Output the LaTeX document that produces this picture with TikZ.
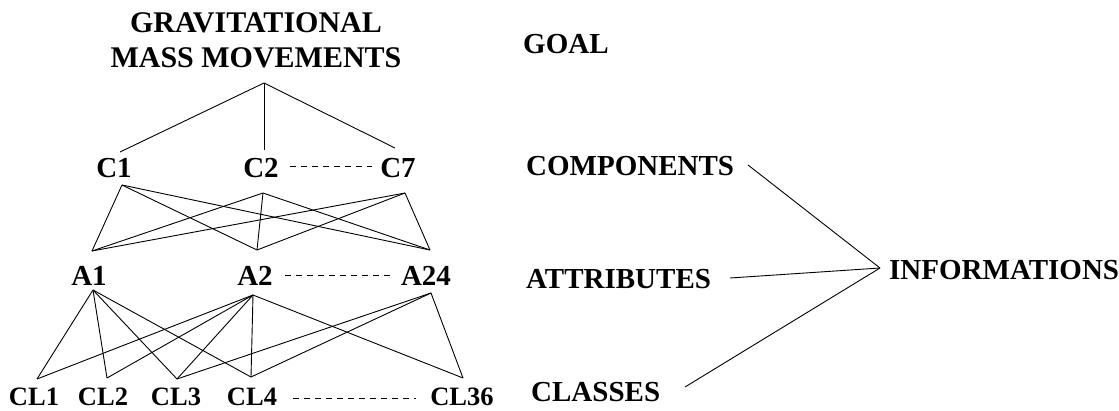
\documentclass[tikz,border=0pt]{standalone}
\usepackage{fontspec}
\setmainfont{Liberation Serif}
\begin{document}
\begin{tikzpicture}[x=1pt,y=-1pt,
  lbl/.style={font=\fontsize{29}{35}\selectfont\bfseries, inner sep=0pt},
  ttl/.style={font=\fontsize{30}{35}\selectfont\bfseries, inner sep=0pt, align=center},
  cls/.style={font=\fontsize{26.5}{30}\selectfont\bfseries, inner sep=0pt},
  side/.style={lbl, anchor=west},
  edge/.style={line width=0.9pt, black},
  dots/.style={line width=0.9pt, dash pattern=on 6pt off 5pt}]
\useasboundingbox (0,0) rectangle (1119,410);
% labels
\node[ttl] (goal) at (256,40) {GRAVITATIONAL\\MASS MOVEMENTS};
\node[lbl] (C1) at (114,168) {C1};
\node[lbl] (C2) at (261,168) {C2};
\node[lbl] (C7) at (398,168) {C7};
\node[lbl] (A1) at (89,276) {A1};
\node[lbl] (A2) at (255,276) {A2};
\node[lbl] (A24) at (426,276) {A24};
\node[cls] (CL1) at (34,397) {CL1};
\node[cls] (CL2) at (103,397) {CL2};
\node[cls] (CL3) at (176,397) {CL3};
\node[cls] (CL4) at (252,397) {CL4};
\node[cls] (CL36) at (462,397) {CL36};
\node[side] (GOAL) at (523,44) {GOAL};
\node[side] (COMP) at (526,166) {COMPONENTS};
\node[side] (ATTR) at (526,279) {ATTRIBUTES};
\node[side] (CLAS) at (531,392) {CLASSES};
\node[side] (INFO) at (889,270) {INFORMATIONS};
% connection points
\coordinate (apex) at (264,83);
\coordinate (C1t) at (120,152);
\coordinate (C2t) at (264,150);
\coordinate (C7t) at (395,148);
\coordinate (C1b) at (122,185);
\coordinate (C2b) at (263,193);
\coordinate (C7b) at (405,193);
\coordinate (A1t) at (92,251);
\coordinate (A2t) at (257,250);
\coordinate (A24t) at (430,250);
\coordinate (A1b) at (93,290);
\coordinate (A2b) at (253,295);
\coordinate (A24b) at (431,293);
\coordinate (CL1t) at (37,379);
\coordinate (CL2t) at (107,378);
\coordinate (CL3t) at (177,379);
\coordinate (CL4t) at (251,377);
\coordinate (CL36t) at (463,378);
\coordinate (COMPe) at (748,165);
\coordinate (ATTRe) at (730,278);
\coordinate (CLASe) at (685,387);
\coordinate (INFOw) at (880,268);
% goal to components
\draw[edge] (apex) -- (C1t);
\draw[edge] (apex) -- (C2t);
\draw[edge] (apex) -- (C7t);
% components to attributes
\foreach \c in {C1b,C2b,C7b}{
  \foreach \a in {A1t,A2t,A24t}{
    \draw[edge] (\c) -- (\a);
  }
}
% attributes to classes
\foreach \k in {CL1t,CL2t,CL3t,CL4t}{\draw[edge] (A1b) -- (\k);}
\foreach \k in {CL1t,CL2t,CL3t,CL4t,CL36t}{\draw[edge] (A2b) -- (\k);}
\foreach \k in {CL3t,CL4t,CL36t}{\draw[edge] (A24b) -- (\k);}
% dashed continuations
\draw[dots] (290,166) -- (372,166);
\draw[dots] (285,275) -- (390,275);
\draw[dots] (293,398) -- (416,398);
% information lines
\draw[edge] (COMPe) -- (INFOw);
\draw[edge] (ATTRe) -- (INFOw);
\draw[edge] (CLASe) -- (INFOw);
\end{tikzpicture}
\end{document}
